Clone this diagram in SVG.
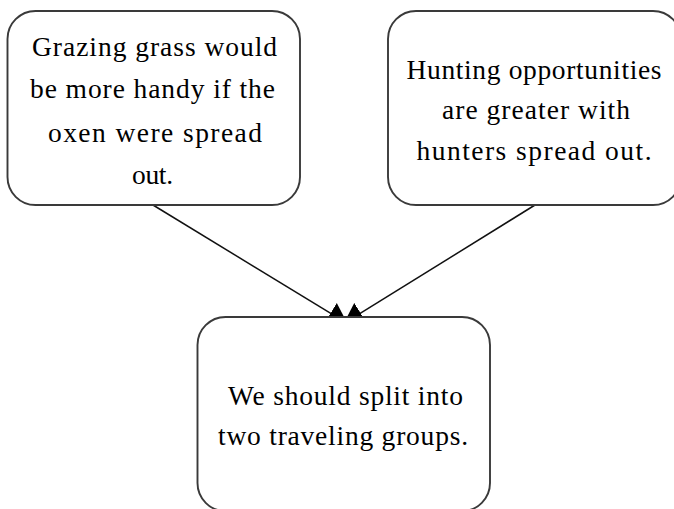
<svg xmlns="http://www.w3.org/2000/svg" width="674" height="509" viewBox="0 0 674 509">
  <style>
    .box { fill: #ffffff; stroke: #3a3a3a; stroke-width: 1.9; }
    .label { font-family: "Liberation Serif", "Times New Roman", serif; font-size: 27.5px; fill: #000000; text-anchor: middle; }
    .edge { stroke: #111111; stroke-width: 1.5; fill: none; marker-end: url(#arrow); }
  </style>
  <defs>
    <marker id="arrow" markerUnits="userSpaceOnUse" viewBox="0 0 20 24" refX="20" refY="12" markerWidth="20" markerHeight="24" orient="auto">
      <path d="M0,0 L20,12 L0,24 Z" fill="#000000"/>
    </marker>
  </defs>

  <!-- connectors drawn first so the boxes cover the arrow tips -->
  <g id="connectors">
    <line class="edge" x1="153" y1="205" x2="347.6" y2="323.7"/>
    <line class="edge" x1="535" y1="205" x2="343.6" y2="323.7"/>
  </g>

  <g id="node-grazing">
    <rect class="box" x="7.5" y="11" width="292.5" height="194" rx="28" ry="28"/>
    <text class="label" x="154.5" y="55.5" textLength="245" lengthAdjust="spacing">Grazing grass would</text>
    <text class="label" x="152.5" y="98.3" textLength="245" lengthAdjust="spacing">be more handy if the</text>
    <text class="label" x="155" y="141.5" textLength="214" lengthAdjust="spacing">oxen were spread</text>
    <text class="label" x="152.5" y="184" textLength="41" lengthAdjust="spacing">out.</text>
  </g>

  <g id="node-hunting">
    <rect class="box" x="388" y="11" width="293" height="194" rx="28" ry="28"/>
    <text class="label" x="534" y="78.5" textLength="255" lengthAdjust="spacing">Hunting opportunities</text>
    <text class="label" x="536" y="119" textLength="188" lengthAdjust="spacing">are greater with</text>
    <text class="label" x="534" y="160" textLength="235" lengthAdjust="spacing">hunters spread out.</text>
  </g>

  <g id="node-split">
    <rect class="box" x="197.5" y="317" width="292.5" height="194" rx="28" ry="28"/>
    <text class="label" x="345.5" y="405" textLength="235" lengthAdjust="spacing">We should split into</text>
    <text class="label" x="343" y="445" textLength="250" lengthAdjust="spacing">two traveling groups.</text>
  </g>
</svg>
